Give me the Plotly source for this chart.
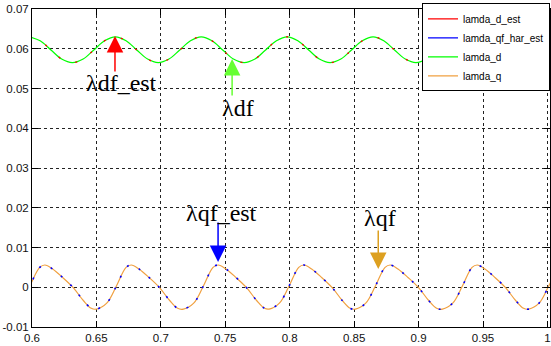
import plotly.graph_objects as go

# ---- data ----
t_d = [0.5980, 0.6063, 0.6147, 0.6230, 0.6313, 0.6397, 0.6480, 0.6563,
       0.6647, 0.6730, 0.6813, 0.6897, 0.6980, 0.7063, 0.7147, 0.7230,
       0.7313, 0.7397, 0.7480, 0.7563, 0.7647, 0.7730, 0.7813, 0.7897,
       0.7980, 0.8063, 0.8147, 0.8230, 0.8313, 0.8397, 0.8480, 0.8563,
       0.8647, 0.8730, 0.8813, 0.8897, 0.8980, 0.9063, 0.9147, 0.9230,
       0.9313, 0.9397, 0.9480, 0.9563, 0.9647, 0.9730, 0.9813, 0.9897,
       0.9980, 1.0063]
lamda_d = [0.0630, 0.0620, 0.0597, 0.0574, 0.0565, 0.0574, 0.0597, 0.0620,
           0.0630, 0.0620, 0.0597, 0.0574, 0.0565, 0.0574, 0.0597, 0.0620,
           0.0630, 0.0620, 0.0597, 0.0574, 0.0565, 0.0574, 0.0597, 0.0620,
           0.0630, 0.0620, 0.0597, 0.0574, 0.0565, 0.0574, 0.0597, 0.0620,
           0.0630, 0.0620, 0.0597, 0.0574, 0.0565, 0.0574, 0.0597, 0.0620,
           0.0630, 0.0620, 0.0597, 0.0574, 0.0565, 0.0574, 0.0597, 0.0620,
           0.0630, 0.0620]
lamda_d_est = [0.0630, 0.0620, 0.0597, 0.0574, 0.0565, 0.0574, 0.0597, 0.0620,
               0.0630, 0.0620, 0.0597, 0.0574, 0.0565, 0.0574, 0.0597, 0.0620,
               0.0630, 0.0620, 0.0597, 0.0574, 0.0565, 0.0574, 0.0597, 0.0620,
               0.0630, 0.0620, 0.0597, 0.0574, 0.0565, 0.0574, 0.0597, 0.0620,
               0.0630, 0.0620, 0.0597, 0.0574, 0.0565, 0.0574, 0.0597, 0.0620,
               0.0630, 0.0620, 0.0597, 0.0574, 0.0565, 0.0574, 0.0597, 0.0620,
               0.0630, 0.0620]

t_q = [0.583, 0.591, 0.5985, 0.606, 0.610, 0.616, 0.624, 0.632, 0.640, 0.646,
       0.650, 0.658, 0.6655, 0.673, 0.677, 0.683, 0.691, 0.699, 0.707, 0.713,
       0.7175, 0.7255, 0.733, 0.7405, 0.7445, 0.7505, 0.7585, 0.7665, 0.7745, 0.7805,
       0.784, 0.792, 0.7995, 0.807, 0.811, 0.817, 0.825, 0.833, 0.841, 0.847,
       0.851, 0.859, 0.8665, 0.874, 0.878, 0.884, 0.892, 0.900, 0.908, 0.914,
       0.9185, 0.9265, 0.934, 0.9415, 0.9455, 0.9515, 0.9595, 0.9675, 0.9755, 0.9815,
       0.9855, 0.9935, 1.001, 1.0085]
lamda_q = [-0.0055, -0.0040, 0.0005, 0.0050, 0.0056, 0.0046, 0.0024, -0.0001, -0.0034, -0.0053,
           -0.0055, -0.0040, 0.0003, 0.0050, 0.0056, 0.0046, 0.0024, -0.0001, -0.0034, -0.0053,
           -0.0055, -0.0040, 0.0003, 0.0050, 0.0056, 0.0046, 0.0024, -0.0001, -0.0034, -0.0053,
           -0.0055, -0.0040, 0.0003, 0.0050, 0.0056, 0.0046, 0.0024, -0.0001, -0.0034, -0.0053,
           -0.0055, -0.0040, 0.0003, 0.0050, 0.0056, 0.0046, 0.0024, -0.0001, -0.0034, -0.0053,
           -0.0055, -0.0040, 0.0003, 0.0050, 0.0056, 0.0046, 0.0024, -0.0001, -0.0034, -0.0053,
           -0.0055, -0.0040, 0.0003, 0.0050]
lamda_qf_har_est = [-0.0055, -0.0040, 0.0005, 0.0050, 0.0056, 0.0046, 0.0024, -0.0001, -0.0034, -0.0053,
                    -0.0055, -0.0040, 0.0003, 0.0050, 0.0056, 0.0046, 0.0024, -0.0001, -0.0034, -0.0053,
                    -0.0055, -0.0040, 0.0003, 0.0050, 0.0056, 0.0046, 0.0024, -0.0001, -0.0034, -0.0053,
                    -0.0055, -0.0040, 0.0003, 0.0050, 0.0056, 0.0046, 0.0024, -0.0001, -0.0034, -0.0053,
                    -0.0055, -0.0040, 0.0003, 0.0050, 0.0056, 0.0046, 0.0024, -0.0001, -0.0034, -0.0053,
                    -0.0055, -0.0040, 0.0003, 0.0050, 0.0056, 0.0046, 0.0024, -0.0001, -0.0034, -0.0053,
                    -0.0055, -0.0040, 0.0003, 0.0050]

series_names = ["lamda_d_est", "lamda_qf_har_est", "lamda_d", "lamda_q"]

x_ticks = [0.6, 0.65, 0.7, 0.75, 0.8, 0.85, 0.9, 0.95, 1.0]
x_tick_labels = ["0.6", "0.65", "0.7", "0.75", "0.8", "0.85", "0.9", "0.95", "1"]
y_ticks = [-0.01, 0, 0.01, 0.02, 0.03, 0.04, 0.05, 0.06, 0.07]
y_tick_labels = ["-0.01", "0", "0.01", "0.02", "0.03", "0.04", "0.05", "0.06", "0.07"]

RED = "#ff0000"
BLUE = "#0000ff"
GREEN = "#00ff00"
ORANGE = "#f0a040"
colors = [RED, BLUE, GREEN, ORANGE]

SANS = "Liberation Sans Narrow, Arial Narrow, Liberation Sans, Arial, sans-serif"
SERIF = "Liberation Serif, Times New Roman, serif"

fig = go.Figure()
# base curves
fig.add_trace(go.Scatter(x=t_d, y=lamda_d, mode="lines", showlegend=False,
                         line=dict(color=GREEN, width=1.2, shape="spline")))
fig.add_trace(go.Scatter(x=t_q, y=lamda_q, mode="lines", showlegend=False,
                         line=dict(color=ORANGE, width=1.2, shape="spline")))
# estimates, visible as sparse specks over the measured curves
fig.add_trace(go.Scatter(x=t_d, y=lamda_d_est, mode="lines", showlegend=False,
                         line=dict(color=RED, width=1.4, dash="2px,16px", shape="spline")))
fig.add_trace(go.Scatter(x=t_q, y=lamda_qf_har_est, mode="lines", showlegend=False,
                         line=dict(color=BLUE, width=1.6, dash="2px,11px", shape="spline")))
# legend entries (solid samples, in the reference order)
for nm, c in zip(series_names, colors):
    fig.add_trace(go.Scatter(x=[None], y=[None], name=nm, mode="lines",
                             line=dict(color=c, width=1.2)))

arrows = [
    dict(x=0.6644, y=0.0632, ay=37, color=RED),
    dict(x=0.7553, y=0.0574, ay=38, color="#66ff33"),
    dict(x=0.7444, y=0.00635, ay=-41, color=BLUE),
    dict(x=0.8687, y=0.0046, ay=-40, color="#dda020"),
]
for a in arrows:
    fig.add_annotation(x=a["x"], y=a["y"], xref="x", yref="y", text="",
                       showarrow=True, ax=0, ay=a["ay"], arrowhead=2,
                       arrowsize=2.2, arrowwidth=1.5, arrowcolor=a["color"])

labels = [
    dict(x=0.6696, y=0.0514, text="λdf_est"),
    dict(x=0.7600, y=0.0451, text="λdf"),
    dict(x=0.7473, y=0.01868, text="λqf_est"),
    dict(x=0.8702, y=0.01742, text="λqf"),
]
for lb in labels:
    fig.add_annotation(x=lb["x"], y=lb["y"], xref="x", yref="y", text=lb["text"],
                       showarrow=False, font=dict(family=SERIF, size=24, color="black"))

axis_common = dict(showline=True, linecolor="black", linewidth=1, mirror="allticks",
                   ticks="inside", ticklen=6, tickcolor="black", tickwidth=1,
                   showgrid=True, gridcolor="#222222", griddash="dot", gridwidth=1,
                   zeroline=False,
                   tickfont=dict(family=SANS, size=11.5, color="#111111"))

fig.update_xaxes(range=[0.6, 1.002], tickvals=x_ticks, ticktext=x_tick_labels, **axis_common)
fig.update_yaxes(range=[-0.01, 0.07], tickvals=y_ticks, ticktext=y_tick_labels, **axis_common)

fig.update_layout(
    width=551, height=346,
    margin=dict(l=32, r=1, t=9, b=19, autoexpand=False),
    paper_bgcolor="white", plot_bgcolor="white",
    showlegend=True,
    legend=dict(x=1, xanchor="right", y=1.018, yanchor="top",
                bgcolor="white", bordercolor="black", borderwidth=1,
                font=dict(family=SANS, size=10, color="black"),
                tracegroupgap=0, itemwidth=30),
)

fig.write_html("out.html")
